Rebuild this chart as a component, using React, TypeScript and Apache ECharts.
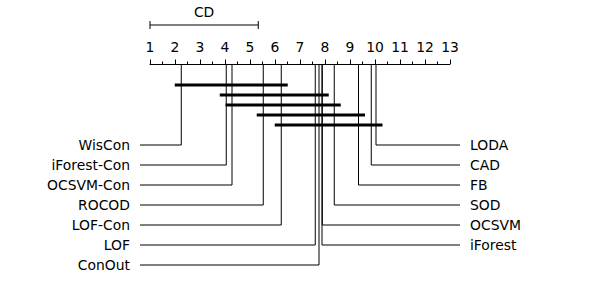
import React, { useEffect, useRef } from "react";
import * as echarts from "echarts";

// ---- data ----
const methods = [
  "WisCon",
  "iForest-Con",
  "OCSVM-Con",
  "ROCOD",
  "LOF-Con",
  "LOF",
  "ConOut",
  "iForest",
  "OCSVM",
  "SOD",
  "FB",
  "CAD",
  "LODA",
];
const avgRanks = [2.25, 4.05, 4.28, 5.53, 6.25, 7.61, 7.76, 7.88, 7.89, 8.37, 9.34, 9.85, 10.04];
const cliques: [string, string][] = [
  ["WisCon", "LOF-Con"],
  ["iForest-Con", "OCSVM"],
  ["OCSVM-Con", "SOD"],
  ["ROCOD", "FB"],
  ["LOF-Con", "LODA"],
];
const criticalDifference = 4.33;
const rankMin = 1;
const rankMax = 13;

const FONT = "DejaVu Sans";
const FS = 13.9;

export default function App() {
  const ref = useRef<HTMLDivElement>(null);

  useEffect(() => {
    if (!ref.current) return;
    const chart = echarts.init(ref.current, null, { renderer: "svg" });

    const n = methods.length;
    const order = methods
      .map((m, i) => ({ name: m, rank: avgRanks[i] }))
      .sort((a, b) => a.rank - b.rank);
    const nLeft = Math.ceil(n / 2);
    const methodData: any[] = [];
    const methodNames: string[] = [];
    order.forEach((o, i) => {
      if (i < nLeft) {
        methodData.push([o.rank, i, 0]);
      } else {
        methodData.push([o.rank, n - 1 - i, 1]);
      }
      methodNames.push(o.name);
    });

    const barY = (i: number) => 21 + 10 * i;
    const labelY = (row: number) => 81 + 20 * row;
    const margin = 0.26;

    const cliqueData = cliques.map(([a, b], i) => {
      const ra = avgRanks[methods.indexOf(a)];
      const rb = avgRanks[methods.indexOf(b)];
      return [ra - margin, rb + margin, i];
    });

    const option: any = {
      animation: false,
      grid: { left: 150, right: 150, top: 64, bottom: 20 },
      xAxis: {
        type: "value",
        position: "top",
        min: rankMin,
        max: rankMax,
        interval: 1,
        splitLine: { show: false },
        axisLine: { show: true, lineStyle: { color: "#000", width: 1 } },
        axisTick: { show: true, length: 4.5, lineStyle: { color: "#000", width: 1 } },
        minorTick: { show: true, splitNumber: 2, length: 2.5, lineStyle: { color: "#000", width: 1 } },
        axisLabel: { color: "#000", fontSize: FS, fontFamily: FONT, margin: 10 },
      },
      yAxis: {
        type: "value",
        inverse: true,
        min: 0,
        max: 201,
        show: false,
      },
      series: [
        {
          type: "custom",
          clip: false,
          data: methodData,
          renderItem: (params: any, api: any) => {
            const rank = api.value(0);
            const row = api.value(1);
            const side = api.value(2);
            const ly = labelY(row);
            const top = api.coord([rank, 0]);
            const bottom = api.coord([rank, ly]);
            const xl = api.coord([rankMin, ly]);
            const xr = api.coord([rankMax, ly]);
            const edgeX = side === 0 ? xl[0] - 10 : xr[0] + 10;
            const textX = side === 0 ? xl[0] - 20 : xr[0] + 20;
            return {
              type: "group",
              children: [
                {
                  type: "polyline",
                  shape: { points: [top, bottom, [edgeX, bottom[1]]] },
                  style: { stroke: "#000", lineWidth: 1, fill: null },
                },
                {
                  type: "text",
                  style: {
                    text: methodNames[params.dataIndex],
                    x: textX,
                    y: bottom[1],
                    align: side === 0 ? "right" : "left",
                    verticalAlign: "middle",
                    fontSize: FS,
                    fontFamily: FONT,
                    fill: "#000",
                  },
                },
              ],
            };
          },
        },
        {
          type: "custom",
          clip: false,
          data: cliqueData,
          renderItem: (params: any, api: any) => {
            const y = barY(api.value(2));
            const p1 = api.coord([api.value(0), y]);
            const p2 = api.coord([api.value(1), y]);
            return {
              type: "line",
              shape: { x1: p1[0], y1: p1[1], x2: p2[0], y2: p2[1] },
              style: { stroke: "#000", lineWidth: 3 },
            };
          },
        },
        {
          type: "custom",
          clip: false,
          data: [[rankMin, rankMin + criticalDifference]],
          renderItem: (params: any, api: any) => {
            const y = -39;
            const p1 = api.coord([api.value(0), y]);
            const p2 = api.coord([api.value(1), y]);
            return {
              type: "group",
              children: [
                {
                  type: "line",
                  shape: { x1: p1[0], y1: p1[1], x2: p2[0], y2: p2[1] },
                  style: { stroke: "#000", lineWidth: 1 },
                },
                {
                  type: "line",
                  shape: { x1: p1[0], y1: p1[1] - 4, x2: p1[0], y2: p1[1] + 4 },
                  style: { stroke: "#000", lineWidth: 1 },
                },
                {
                  type: "line",
                  shape: { x1: p2[0], y1: p2[1] - 4, x2: p2[0], y2: p2[1] + 4 },
                  style: { stroke: "#000", lineWidth: 1 },
                },
                {
                  type: "text",
                  style: {
                    text: "CD",
                    x: (p1[0] + p2[0]) / 2,
                    y: p1[1] - 13,
                    align: "center",
                    verticalAlign: "middle",
                    fontSize: FS,
                    fontFamily: FONT,
                    fill: "#000",
                  },
                },
              ],
            };
          },
        },
      ],
    };

    chart.setOption(option);
    return () => chart.dispose();
  }, []);

  return (
    <div
      ref={ref}
      style={{ position: "absolute", left: 0, top: 0, width: 600, height: 285, background: "#fff" }}
    />
  );
}
